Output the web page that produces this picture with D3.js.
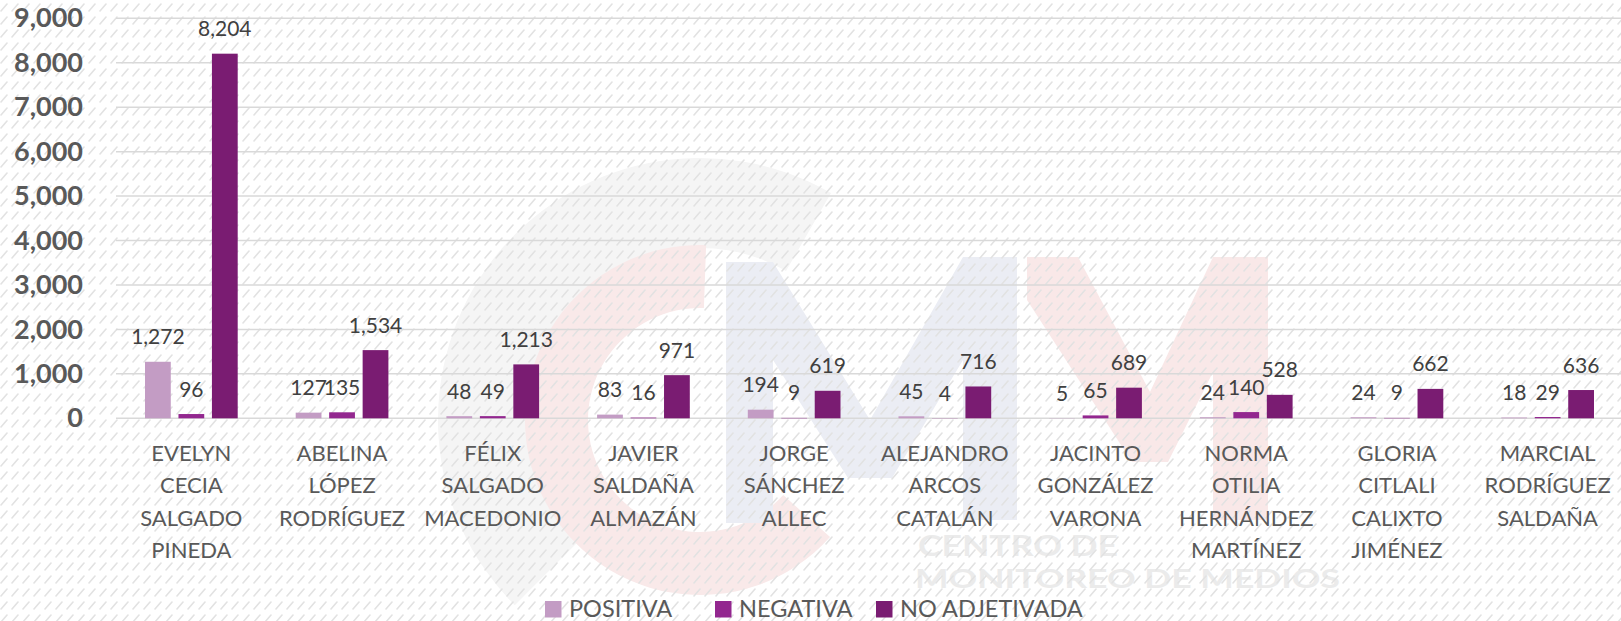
<!DOCTYPE html>
<html>
<head>
<meta charset="utf-8">
<script src="https://cdn.jsdelivr.net/npm/d3@7"></script>
<style>
  html, body { margin: 0; padding: 0; background: #fff; }
  svg { display: block; font-family: Lato, "Open Sans", sans-serif; }
</style>
</head>
<body>
<svg id="graph" width="1621" height="621"></svg>
<script>
// chart data
const categories = [
  ["EVELYN", "CECIA", "SALGADO", "PINEDA"],
  ["ABELINA", "LÓPEZ", "RODRÍGUEZ"],
  ["FÉLIX", "SALGADO", "MACEDONIO"],
  ["JAVIER", "SALDAÑA", "ALMAZÁN"],
  ["JORGE", "SÁNCHEZ", "ALLEC"],
  ["ALEJANDRO", "ARCOS", "CATALÁN"],
  ["JACINTO", "GONZÁLEZ", "VARONA"],
  ["NORMA", "OTILIA", "HERNÁNDEZ", "MARTÍNEZ"],
  ["GLORIA", "CITLALI", "CALIXTO", "JIMÉNEZ"],
  ["MARCIAL", "RODRÍGUEZ", "SALDAÑA"]
];
const seriesNames = ["POSITIVA", "NEGATIVA", "NO ADJETIVADA"];
const positiva = [1272, 127, 48, 83, 194, 45, 5, 24, 24, 18];
const negativa = [96, 135, 49, 16, 9, 4, 65, 140, 9, 29];
const noAdjetivada = [8204, 1534, 1213, 971, 619, 716, 689, 528, 662, 636];
const yTicks = [0, 1000, 2000, 3000, 4000, 5000, 6000, 7000, 8000, 9000];

const colors = ["#c39cc4", "#93278f", "#7a1c72"];

const width = 1621, height = 621;
const svg = d3.select("#graph");

// hatch background pattern
const defs = svg.append("defs");
const pat = defs.append("pattern")
  .attr("id", "hatch")
  .attr("patternUnits", "userSpaceOnUse")
  .attr("width", 11).attr("height", 13);
pat.append("line").attr("x1", 1).attr("y1", 11).attr("x2", 7).attr("y2", 4)
  .attr("stroke", "#e2e2e2").attr("stroke-width", 1.6).attr("stroke-linecap", "round");

svg.append("rect").attr("width", width).attr("height", height).attr("fill", "#fff");

// faint CMM watermark behind the chart
const wm = svg.append("g").attr("class", "watermark");
const cx = 700, cy = 420;
wm.append("path")
  .attr("transform", `translate(${cx},${cy})`)
  .attr("d", d3.arc()({ innerRadius: 172, outerRadius: 262, startAngle: -135 * Math.PI / 180, endAngle: 30 * Math.PI / 180 }))
  .attr("fill", "#f5f5f5");
wm.append("path")
  .attr("transform", `translate(${cx},${cy})`)
  .attr("d", d3.arc()({ innerRadius: 112, outerRadius: 175, startAngle: -228 * Math.PI / 180, endAngle: 2 * Math.PI / 180 }))
  .attr("fill", "#f9e9e9");
const poly = d3.line();
wm.append("path")
  .attr("d", poly([[726,523],[726,262],[773,262],[870,420],[963,257],[1017,257],[1017,520],[963,520],[963,360],[892,478],[848,478],[773,360],[773,523]]) + "Z")
  .attr("fill", "#ebedf4");
wm.append("path")
  .attr("d", poly([[1027,257],[1078,257],[1150,392],[1213,257],[1268,257],[1268,520],[1213,520],[1213,372],[1168,462],[1132,462],[1027,300]]) + "Z")
  .attr("fill", "#f9e8e8");
wm.append("text").attr("x", 918).attr("y", 556).text("CENTRO DE")
  .attr("font-size", 28).attr("font-weight", "bold").attr("fill", "#ebebeb")
  .attr("textLength", 200).attr("lengthAdjust", "spacingAndGlyphs");
wm.append("text").attr("x", 915).attr("y", 588).text("MONITOREO DE MEDIOS")
  .attr("font-size", 26).attr("font-weight", "bold").attr("fill", "#ebebeb")
  .attr("textLength", 425).attr("lengthAdjust", "spacingAndGlyphs");

svg.append("rect").attr("width", width).attr("height", height).attr("fill", "url(#hatch)");

// scales
const x0 = d3.scaleBand().domain(d3.range(categories.length)).range([116, 1623]);
const x1 = d3.scaleBand().domain(seriesNames).range([29, 121.7]).paddingInner(0.23);
const y = d3.scaleLinear().domain([0, 9000]).range([418.3, 18.3]);

// gridlines
svg.append("g").selectAll("line")
  .data(yTicks)
  .join("line")
  .attr("x1", 116).attr("x2", width)
  .attr("y1", d => y(d)).attr("y2", d => y(d))
  .attr("stroke", "#d9d9d9").attr("stroke-width", 1.5);

// y axis labels
const yAxis = svg.append("g")
  .attr("transform", "translate(83,0)")
  .call(d3.axisLeft(y).tickValues(yTicks).tickFormat(d3.format(",")).tickSize(0).tickPadding(0));
yAxis.select(".domain").remove();
yAxis.selectAll("text")
  .attr("font-family", "Lato, 'Open Sans', sans-serif")
  .attr("font-size", 27).attr("font-weight", "bold").attr("fill", "#595959");

// bars
const rows = categories.map((c, i) => ({ i, vals: [positiva[i], negativa[i], noAdjetivada[i]] }));
const groups = svg.append("g").selectAll("g")
  .data(rows)
  .join("g")
  .attr("transform", d => `translate(${x0(d.i)},0)`);

groups.selectAll("rect")
  .data(d => d.vals.map((v, k) => ({ k, v })))
  .join("rect")
  .attr("x", d => x1(seriesNames[d.k]))
  .attr("width", x1.bandwidth())
  .attr("y", d => y(d.v))
  .attr("height", d => y(0) - y(d.v))
  .attr("fill", d => colors[d.k]);

groups.selectAll("text")
  .data(d => d.vals.map((v, k) => ({ k, v })))
  .join("text")
  .attr("x", d => x1(seriesNames[d.k]) + x1.bandwidth() / 2)
  .attr("y", d => y(d.v) - 17.5)
  .attr("text-anchor", "middle")
  .attr("font-size", 21)
  .attr("fill", "#404040")
  .text(d => d3.format(",")(d.v));

// category labels
const cat = svg.append("g").selectAll("text")
  .data(categories)
  .join("text")
  .attr("text-anchor", "middle")
  .attr("font-size", 22)
  .attr("fill", "#595959");
cat.each(function(lines, i) {
  d3.select(this).selectAll("tspan")
    .data(lines)
    .join("tspan")
    .attr("x", x0(i) + x0.bandwidth() / 2)
    .attr("y", (d, j) => 460.7 + j * 32.4)
    .text(d => d);
});

// legend
const legendX = [545, 715, 876];
const legend = svg.append("g").selectAll("g")
  .data(seriesNames)
  .join("g")
  .attr("transform", (d, k) => `translate(${legendX[k]},0)`);
legend.append("rect").attr("x", 0).attr("y", 601).attr("width", 16.5).attr("height", 16.5)
  .attr("fill", (d, k) => colors[k]);
legend.append("text").attr("x", 24).attr("y", 617).attr("font-size", 23.5)
  .attr("fill", "#595959").text(d => d);
</script>
</body>
</html>
